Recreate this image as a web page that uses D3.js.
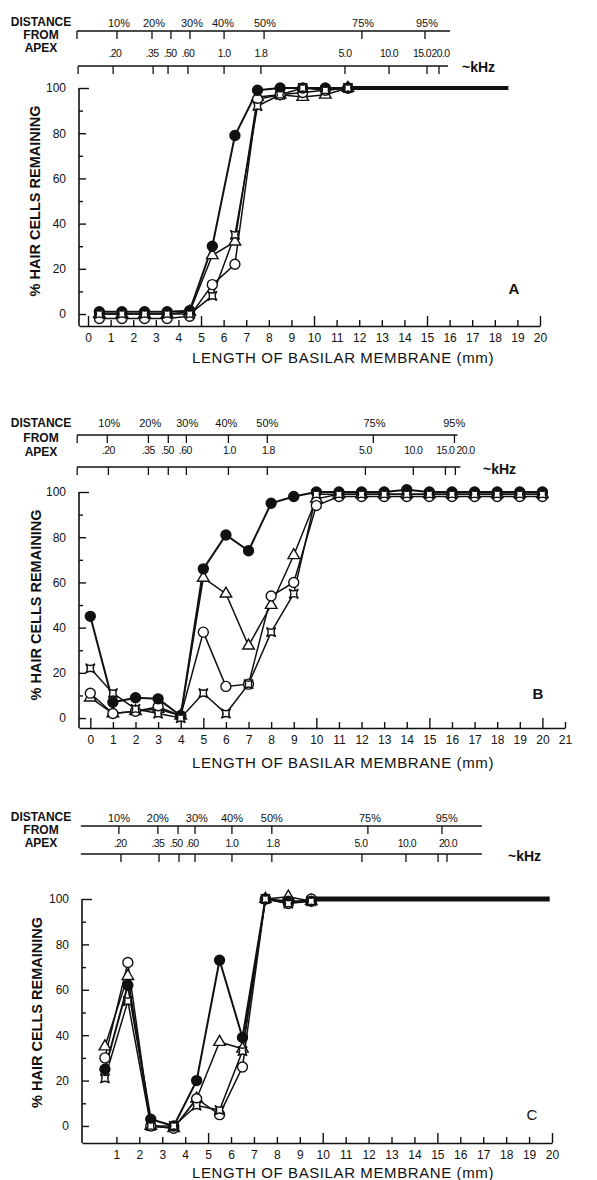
<!DOCTYPE html>
<html lang="en">
<head>
<meta charset="utf-8">
<title>Hair cells remaining along the basilar membrane</title>
<script src="https://cdnjs.cloudflare.com/ajax/libs/d3/7.8.5/d3.min.js"></script>
<style>
  body { margin: 0; background: #fff; }
  svg text { font-family: "Liberation Sans", Arial, sans-serif; fill: #111; }
</style>
</head>
<body>
<script>

// ---- data (mm along basilar membrane, % hair cells remaining) ----

// panel A
var mmA = [0.5, 1.5, 2.5, 3.5, 4.5, 5.5, 6.5, 7.5, 8.5, 9.5, 10.5, 11.5];
var filledA   = [1, 1, 1, 1, 1.5, 30, 79, 99, 100, 100, 100, 100];
var triangleA = [0, 0, 0, 0, 1, 26, 32, 96, 97, 96, 97, 100];
var circleA   = [-2, -2, -2, -2, -1, 13, 22, 95, 97, 98, 99, 100];
var starA     = [0, 0, 0, 0, 0, 8, 35, 92, 97, 100, 99, 100];
var plateauA  = [11.5, 18.6];

// panel B
var mmB = [0, 1, 2, 3, 4, 5, 6, 7, 8, 9, 10, 11, 12, 13, 14, 15, 16, 17, 18, 19, 20];
var filledB   = [45, 7, 9, 8.5, 1, 66, 81, 74, 95, 98, 100, 100, 100, 100, 101, 100, 100, 100, 100, 100, 100];
var triangleB = [9, 2, 3, 4, 1, 62, 55, 32, 50, 72, 97, 99, 99, 99, 99, 99, 99, 99, 99, 99, 99];
var circleB   = [11, 2, 3, 5, 1, 38, 14, 15, 54, 60, 94, 98, 98, 98, 98, 98, 98, 98, 98, 98, 98];
var starB     = [22, 11, 4, 2, 0, 11, 2, 15, 38, 55, 99, 99, 99, 99, 99, 99, 99, 99, 99, 99, 99];

// panel C
var mmC = [0.5, 1.5, 2.5, 3.5, 4.5, 5.5, 6.5, 7.5, 8.5, 9.5];
var filledC   = [25, 62, 3, 0, 20, 73, 39, 100, 99, 99];
var triangleC = [35, 66, 0, -1, 12, 37, 34, 100, 101, 99];
var circleC   = [30, 72, 0, -1, 12, 5, 26, 100, 98, 100];
var starC     = [21, 55, 0, 0, 9, 7, 33, 100, 98, 99];
var plateauC  = [9.5, 19.9];

// axis ticks
var yTicks = [0, 10, 20, 30, 40, 50, 60, 70, 80, 90, 100];
var mmTicksA = [0, 1, 2, 3, 4, 5, 6, 7, 8, 9, 10, 11, 12, 13, 14, 15, 16, 17, 18, 19, 20];
var mmTicksB = [0, 1, 2, 3, 4, 5, 6, 7, 8, 9, 10, 11, 12, 13, 14, 15, 16, 17, 18, 19, 20, 21];
var mmTicksC = [1, 2, 3, 4, 5, 6, 7, 8, 9, 10, 11, 12, 13, 14, 15, 16, 17, 18, 19, 20];

// distance-from-apex and frequency scales (tick spots in mm of the lower axis)
var pctText = ["10%", "20%", "30%", "40%", "50%", "75%", "95%"];
var pctTicksA = [1.28, 2.83, 3.67, 4.51, 6.02, 7.79, 12.12, 14.91];
var pctTicksB = [0.75, 2.57, 3.45, 4.25, 6.11, 7.83, 12.52, 16.11];
var pctTicksC = [1.11, 2.81, 3.69, 4.43, 6.04, 7.78, 11.97, 15.2];
var pctAtA = [1.37, 2.92, 4.6, 5.97, 7.83, 12.17, 15.0];
var pctAtB = [0.84, 2.65, 4.29, 6.02, 7.83, 12.57, 16.1];
var pctAtC = [1.11, 2.81, 4.51, 6.04, 7.78, 12.06, 15.41];

var khzTextAB = [".20", ".35", ".50", ".60", "1.0", "1.8", "5.0", "10.0", "15.0", "20.0"];
var khzTextC  = [".20", ".35", ".50", ".60", "1.0", "1.8", "5.0", "10.0", "20.0"];
var khzTicksA = [1.11, 2.88, 3.54, 4.42, 6.02, 7.65, 11.37, 13.32, 15.0, 15.53];
var khzTicksB = [0.8, 2.57, 3.45, 4.25, 6.11, 7.83, 12.17, 14.29, 15.71, 16.15];
var khzTicksC = [1.2, 2.86, 3.73, 4.43, 6.04, 7.78, 11.71, 13.63, 15.03, 15.42];
var khzAtA = [1.19, 2.83, 3.63, 4.42, 6.02, 7.65, 11.37, 13.32, 14.78, 15.6];
var khzAtB = [0.8, 2.57, 3.41, 4.2, 6.15, 7.88, 12.17, 14.29, 15.7, 16.6];
var khzAtC = [1.16, 2.81, 3.6, 4.3, 6.04, 7.83, 11.67, 13.67, 15.46];

// ---- layout ----
var w = 597, h = 1180;

var panels = [
	{
		letter: "A", mm: mmA, series: [triangleA, circleA, filledA, starA], plateau: plateauA,
		mmTicks: mmTicksA, xDomain: [-0.4, 20], xRange: [79, 540], yDomain: [-5.3, 100], yRange: [326, 88],
		pctTicks: pctTicksA, pctAt: pctAtA, khzText: khzTextAB, khzTicks: khzTicksA, khzAt: khzAtA,
		pctLine: [-0.49, 16.02], khzLine: [-0.44, 15.93], startTick: true,
		pctLineY: 31, pctLabelY: 23, khzLabelY: 53, khzLineY: 66, headY: [22, 35, 48],
		unit: [462, 67], letterPos: [514, 289], letterBold: true, titleY: 358, yLabelX: 35, plateauW: 4
	},
	{
		letter: "B", mm: mmB, series: [triangleB, circleB, filledB, starB], plateau: null,
		mmTicks: mmTicksB, xDomain: [-0.5, 21], xRange: [79, 565], yDomain: [-4.4, 100], yRange: [728, 492],
		pctTicks: pctTicksB, pctAt: pctAtB, khzText: khzTextAB, khzTicks: khzTicksB, khzAt: khzAtB,
		pctLine: [-0.58, 16.24], khzLine: [-0.58, 16.37], startTick: true,
		pctLineY: 435, pctLabelY: 423, khzLabelY: 450, khzLineY: 467, headY: [423, 438, 452],
		unit: [483, 469], letterPos: [538, 694], letterBold: true, titleY: 763, yLabelX: 36, plateauW: 0
	},
	{
		letter: "C", mm: mmC, series: [triangleC, circleC, filledC, starC], plateau: plateauC,
		mmTicks: mmTicksC, xDomain: [-0.5, 20], xRange: [82, 552], yDomain: [-7.5, 100], yRange: [1143, 899],
		pctTicks: pctTicksC, pctAt: pctAtC, khzText: khzTextC, khzTicks: khzTicksC, khzAt: khzAtC,
		pctLine: [-0.55, 16.94], khzLine: [-0.55, 16.94], startTick: false,
		pctLineY: 826, pctLabelY: 818, khzLabelY: 843, khzLineY: 854, headY: [817, 830, 843],
		unit: [508, 856], letterPos: [532, 1115], letterBold: false, titleY: 1173, yLabelX: 37, plateauW: 5
	}
];

// marker kinds, in the same order as each panel's series list
var kinds = ["triangle", "circle", "filled", "star"];

var svg = d3.select("body")
	.append("svg")
	.attr("width", w)
	.attr("height", h);

// concave four-pointed star, like the ones in the plot
function starPath(a) {
	var c = a * 0.25;
	return "M" + (-a) + "," + (-a) +
		"Q0," + (-c) + " " + a + "," + (-a) +
		"Q" + c + ",0 " + a + "," + a +
		"Q0," + c + " " + (-a) + "," + a +
		"Q" + (-c) + ",0 " + (-a) + "," + (-a) + "Z";
}

function drawPanel(p) {
	var g = svg.append("g");

	var x = d3.scaleLinear().domain(p.xDomain).range(p.xRange);
	var y = d3.scaleLinear().domain(p.yDomain).range(p.yRange);

	// header text
	var head = ["DISTANCE", "FROM", "APEX"];
	g.selectAll("text.head")
		.data(head)
		.enter()
		.append("text")
		.attr("class", "head")
		.attr("x", 41)
		.attr("y", function(d, i){ return p.headY[i]; })
		.attr("dy", "0.36em")
		.attr("text-anchor", "middle")
		.attr("font-size", "12px")
		.attr("font-weight", "bold")
		.text(function(d){ return d; });

	// distance-from-apex scale
	g.append("line")
		.attr("x1", x(p.pctLine[0])).attr("x2", x(p.pctLine[1]))
		.attr("y1", p.pctLineY).attr("y2", p.pctLineY)
		.attr("stroke", "#111").attr("stroke-width", 1.3);
	var pctT = p.startTick ? [p.pctLine[0]].concat(p.pctTicks) : p.pctTicks;
	g.selectAll("line.pct")
		.data(pctT)
		.enter()
		.append("line")
		.attr("class", "pct")
		.attr("x1", function(d){ return x(d); }).attr("x2", function(d){ return x(d); })
		.attr("y1", p.pctLineY).attr("y2", p.pctLineY + 8)
		.attr("stroke", "#111").attr("stroke-width", 1.3);
	g.selectAll("text.pct")
		.data(pctText)
		.enter()
		.append("text")
		.attr("class", "pct")
		.attr("x", function(d, i){ return x(p.pctAt[i]); })
		.attr("y", p.pctLabelY)
		.attr("dy", "0.36em")
		.attr("text-anchor", "middle")
		.attr("font-size", "11px")
		.text(function(d){ return d; });

	// frequency scale
	g.append("line")
		.attr("x1", x(p.khzLine[0])).attr("x2", x(p.khzLine[1]))
		.attr("y1", p.khzLineY).attr("y2", p.khzLineY)
		.attr("stroke", "#111").attr("stroke-width", 1.3);
	var khzT = p.startTick ? [p.khzLine[0]].concat(p.khzTicks) : p.khzTicks;
	g.selectAll("line.khz")
		.data(khzT)
		.enter()
		.append("line")
		.attr("class", "khz")
		.attr("x1", function(d){ return x(d); }).attr("x2", function(d){ return x(d); })
		.attr("y1", p.khzLineY).attr("y2", p.khzLineY + 8)
		.attr("stroke", "#111").attr("stroke-width", 1.3);
	g.selectAll("text.khz")
		.data(p.khzText)
		.enter()
		.append("text")
		.attr("class", "khz")
		.attr("x", function(d, i){ return x(p.khzAt[i]); })
		.attr("y", p.khzLabelY)
		.attr("dy", "0.36em")
		.attr("text-anchor", "middle")
		.attr("font-size", "10.5px")
		.attr("letter-spacing", "-0.6px")
		.text(function(d){ return d; });
	g.append("text")
		.attr("x", p.unit[0]).attr("y", p.unit[1])
		.attr("dy", "0.36em")
		.attr("font-size", "14px")
		.attr("font-weight", "bold")
		.text("~kHz");

	// bottom axis, ticks pointing up
	var xAxis = d3.axisBottom(x)
		.tickValues(p.mmTicks)
		.tickSize(-6)
		.tickSizeOuter(0)
		.tickPadding(7)
		.tickFormat(function(d){ return d; });
	var gx = g.append("g")
		.attr("transform", "translate(0," + p.yRange[0] + ")")
		.call(xAxis);
	gx.selectAll("line").attr("y2", function(d){ return d % 5 === 0 ? -10 : -6; });

	// left axis, ticks pointing right
	var yAxis = d3.axisLeft(y)
		.tickValues(yTicks)
		.tickSize(-5)
		.tickSizeOuter(0)
		.tickPadding(13)
		.tickFormat(function(d){ return d % 20 === 0 ? d : ""; });
	var gy = g.append("g")
		.attr("transform", "translate(" + p.xRange[0] + ",0)")
		.call(yAxis);
	gy.selectAll("line").attr("x2", function(d){
		if (d === 100) return 10;
		return d % 20 === 0 ? 7 : 4;
	});
	gy.select(".domain").attr("d", "M0," + p.yRange[0] + "V" + y(100));

	[gx, gy].forEach(function(a){
		a.select(".domain").attr("stroke", "#111").attr("stroke-width", 1.6);
		a.selectAll("line").attr("stroke", "#111").attr("stroke-width", 1.4);
		a.selectAll("text").attr("font-size", "12px").attr("font-family", null).attr("fill", "#111");
	});

	// axis titles
	g.append("text")
		.attr("x", 343).attr("y", p.titleY)
		.attr("dy", "0.36em")
		.attr("text-anchor", "middle")
		.attr("font-size", "15px")
		.attr("letter-spacing", "0.6px")
		.text("LENGTH OF BASILAR MEMBRANE (mm)");
	var ym = (y(0) + y(100)) / 2;
	g.append("text")
		.attr("transform", "translate(" + p.yLabelX + "," + ym + ") rotate(-90)")
		.attr("dy", "0.36em")
		.attr("text-anchor", "middle")
		.attr("font-size", "14.5px")
		.attr("font-weight", "bold")
		.text("% HAIR CELLS REMAINING");

	// panel letter
	g.append("text")
		.attr("x", p.letterPos[0]).attr("y", p.letterPos[1])
		.attr("dy", "0.36em")
		.attr("text-anchor", "middle")
		.attr("font-size", "15px")
		.attr("font-weight", p.letterBold ? "bold" : "normal")
		.text(p.letter);

	// shared plateau where all curves merge at 100%
	if (p.plateau) {
		g.append("line")
			.attr("x1", x(p.plateau[0])).attr("x2", x(p.plateau[1]))
			.attr("y1", y(100)).attr("y2", y(100))
			.attr("stroke", "#111").attr("stroke-width", p.plateauW);
	}

	// series lines
	var line = d3.line()
		.x(function(d){ return x(d[0]); })
		.y(function(d){ return y(d[1]); });
	p.series.forEach(function(vals, k){
		var pts = p.mm.map(function(m, i){ return [m, vals[i]]; });
		g.append("path")
			.datum(pts)
			.attr("d", line)
			.attr("fill", "none")
			.attr("stroke", "#111")
			.attr("stroke-width", kinds[k] === "filled" ? 2 : 1.5);
	});

	// markers
	var tri = d3.symbol().type(d3.symbolTriangle).size(58)();
	p.series.forEach(function(vals, k){
		var kind = kinds[k];
		var pts = p.mm.map(function(m, i){ return [m, vals[i]]; });
		var sel = g.selectAll("path.m" + k)
			.data(pts)
			.enter()
			.append("path")
			.attr("class", "m" + k)
			.attr("transform", function(d){ return "translate(" + x(d[0]) + "," + y(d[1]) + ")"; })
			.attr("stroke", "#111")
			.attr("stroke-width", 1.4);
		if (kind === "triangle") {
			sel.attr("d", tri).attr("fill", "#fff");
		} else if (kind === "circle") {
			sel.attr("d", d3.symbol().type(d3.symbolCircle).size(78)()).attr("fill", "#fff");
		} else if (kind === "filled") {
			sel.attr("d", d3.symbol().type(d3.symbolCircle).size(78)()).attr("fill", "#111");
		} else {
			sel.attr("d", starPath(4.6)).attr("fill", "#fff");
		}
	});
}

panels.forEach(drawPanel);

</script>
</body>
</html>
